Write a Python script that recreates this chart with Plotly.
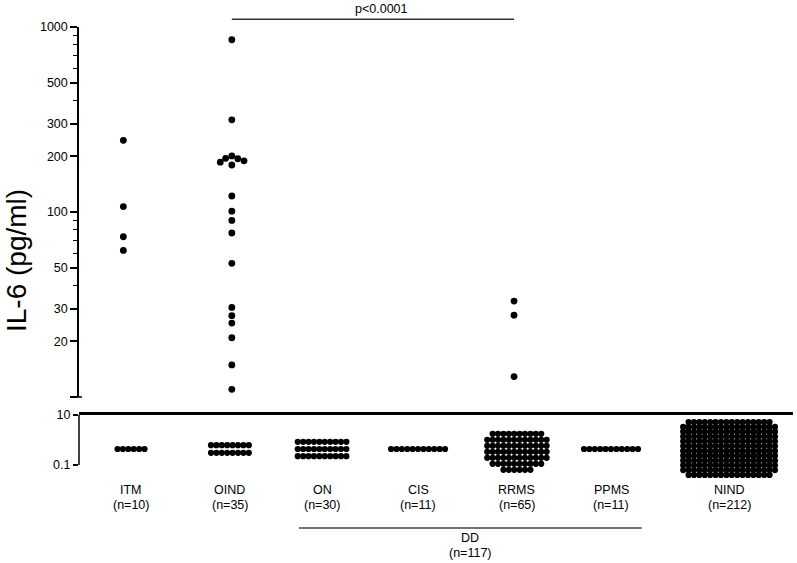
import numpy as np
import plotly.graph_objects as go

# ---------------- data ----------------
groups = ["ITM", "OIND", "ON", "CIS", "RRMS", "PPMS", "NIND"]
group_n = [10, 35, 30, 11, 65, 11, 212]
dd_label = "DD"
dd_n = 117
p_text = "p<0.0001"

# detectable IL-6 (pg/ml) - upper panel
itm_values = [244, 107, 73.5, 62]
oind_values = [853, 315, 201, 195, 194, 189, 186, 179.5, 122, 101, 90, 77,
               52.8, 30.5, 27.5, 25.1, 20.9, 14.9, 11.0]
rrms_values = [33.0, 27.7, 12.9]
upper_values = {"ITM": itm_values, "OIND": oind_values, "RRMS": rrms_values}

# below-detection samples - lower panel: number of dots in each row (top -> bottom)
itm_rows = [6]
oind_rows = [8, 8]
on_rows = [10, 10, 10]
cis_rows = [11]
rrms_rows = [10, 12, 12, 12, 12, 10, 6]
ppms_rows = [11]
nind_rows = [16, 18, 18, 18, 18, 18, 18, 18, 18, 18, 18, 16]
lower_rows = [itm_rows, oind_rows, on_rows, cis_rows, rrms_rows, ppms_rows, nind_rows]
# centre of each below-detection stack (pg/ml)
below_centre = [0.437, 0.437, 0.437, 0.437, 0.337, 0.437, 0.457]

upper_ticks = [10, 20, 30, 50, 100, 200, 300, 500, 1000]
upper_ticktext = ["", "20", "30", "50", "100", "200", "300", "500", "1000"]
upper_minor = [40, 60, 70, 80, 90, 400, 600, 700, 800, 900]
lower_ticks = [0.1, 10]
lower_ticktext = ["0.1", "10"]

# ---------------- layout constants ----------------
W, H = 797, 563
GROUP_X = [0.0, 1.03, 1.99, 2.99, 4.02, 5.0, 6.23]
UPPER_SHIFT = {"ITM": -0.08, "OIND": 0.02, "RRMS": -0.03}
X_RANGE = [-0.542, 6.896]
X_DOMAIN = [79 / W, 793 / W]
PX_PER_X = (793 - 79) / (X_RANGE[1] - X_RANGE[0])
UP_PX_PER_DEC = (397 - 27) / 2.0
LOW_TOP, LOW_AXIS_BOTTOM, LOW_DOMAIN_BOTTOM = 415, 465, 487
LOW_PX_PER_DEC = (LOW_AXIS_BOTTOM - LOW_TOP) / 2.0
LOW_RANGE = [1 - (LOW_DOMAIN_BOTTOM - LOW_TOP) / LOW_PX_PER_DEC, 1]
DOT_DX_PX = 5.4
ROW_DY_PX = [7.0, 7.7, 7.2, 7.0, 6.0, 7.0, 4.8]
FONT = "Liberation Sans, Arial, Helvetica, sans-serif"


def py(px):
    return 1 - px / H


def swarm(values, diameter_px):
    placed, out = [], []
    for v in values:
        y = np.log10(v) * UP_PX_PER_DEC
        intervals = []
        for (pyv, pxv) in placed:
            dy = abs(pyv - y)
            if dy < diameter_px:
                half = np.sqrt(diameter_px ** 2 - dy ** 2)
                intervals.append((pxv - half, pxv + half))
        cands = [0.0] + [a for a, b in intervals] + [b for a, b in intervals]
        cands.sort(key=abs)
        chosen = 0.0
        for c in cands:
            if all(not (a + 1e-9 < c < b - 1e-9) for a, b in intervals):
                chosen = c
                break
        placed.append((y, chosen))
        out.append(chosen)
    return np.array(out) / PX_PER_X


fig = go.Figure()

# upper panel points
ux, uy = [], []
for g, vals in upper_values.items():
    gi = groups.index(g)
    offs = swarm(vals, 6.6)
    ux.extend(GROUP_X[gi] + UPPER_SHIFT.get(g, 0) + offs)
    uy.extend(vals)
fig.add_trace(go.Scatter(x=ux, y=uy, mode="markers", xaxis="x", yaxis="y",
                         marker=dict(color="black", size=6.8, line=dict(width=0)),
                         cliponaxis=False, hoverinfo="y", showlegend=False))

# lower panel points
lx, ly = [], []
for gi, rows in enumerate(lower_rows):
    dy = ROW_DY_PX[gi] / LOW_PX_PER_DEC
    dx = DOT_DX_PX / PX_PER_X
    R = len(rows)
    c = np.log10(below_centre[gi])
    for r, cnt in enumerate(rows):
        yl = c + ((R - 1) / 2 - r) * dy
        for k in range(cnt):
            lx.append(GROUP_X[gi] + (k - (cnt - 1) / 2) * dx)
            ly.append(10 ** yl)
fig.add_trace(go.Scatter(x=lx, y=ly, mode="markers", xaxis="x2", yaxis="y2",
                         marker=dict(color="black", size=6.2, line=dict(width=0)),
                         cliponaxis=False, hoverinfo="skip", showlegend=False))

annotations = []
for gi, g in enumerate(groups):
    annotations.append(dict(x=GROUP_X[gi], y=py(490), xref="x", yref="paper", text=g,
                            showarrow=False, font=dict(size=12.5, color="black", family=FONT),
                            xanchor="center", yanchor="middle"))
    annotations.append(dict(x=GROUP_X[gi], y=py(505), xref="x", yref="paper",
                            text=f"(n={group_n[gi]})", showarrow=False,
                            font=dict(size=12.5, color="black", family=FONT),
                            xanchor="center", yanchor="middle"))

dd_x0 = GROUP_X[2] - 0.24
dd_x1 = GROUP_X[5] + 0.32
dd_mid = (dd_x0 + dd_x1) / 2
annotations.append(dict(x=dd_mid, y=py(538), xref="x", yref="paper", text=dd_label,
                        showarrow=False, font=dict(size=12.5, color="black", family=FONT),
                        xanchor="center", yanchor="middle"))
annotations.append(dict(x=dd_mid, y=py(553), xref="x", yref="paper", text=f"(n={dd_n})",
                        showarrow=False, font=dict(size=12.5, color="black", family=FONT),
                        xanchor="center", yanchor="middle"))

p_x0 = GROUP_X[1] + UPPER_SHIFT["OIND"]
p_x1 = GROUP_X[4] + UPPER_SHIFT["RRMS"]
annotations.append(dict(x=(p_x0 + p_x1) / 2 + 0.09, y=py(9), xref="x", yref="paper", text=p_text,
                        showarrow=False, font=dict(size=12.5, color="black", family=FONT),
                        xanchor="center", yanchor="middle"))

annotations.append(dict(x=16 / W, y=py(261), xref="paper", yref="paper", text="IL-6 (pg/ml)",
                        textangle=-90, showarrow=False,
                        font=dict(size=28, color="black", family=FONT),
                        xanchor="center", yanchor="middle"))

shapes = [
    dict(type="line", xref="x", yref="paper", x0=p_x0, x1=p_x1, y0=py(19.3), y1=py(19.3),
         line=dict(color="#333333", width=1.5)),
    dict(type="line", xref="x", yref="paper", x0=dd_x0, x1=dd_x1, y0=py(528), y1=py(528),
         line=dict(color="#444444", width=1.5)),
    # left axis line of the lower panel (only between 10 and 0.1)
    dict(type="line", xref="paper", yref="paper", x0=X_DOMAIN[0], x1=X_DOMAIN[0],
         y0=py(LOW_TOP), y1=py(LOW_AXIS_BOTTOM), line=dict(color="black", width=1.5)),
    # small cross tick at the foot of the upper axis
    dict(type="line", xref="paper", yref="paper", x0=(X_DOMAIN[0] * W - 6) / W,
         x1=(X_DOMAIN[0] * W + 3) / W, y0=py(397), y1=py(397),
         line=dict(color="black", width=1.5)),
]

axis_common = dict(showgrid=False, zeroline=False, color="black", automargin=False)

fig.update_layout(
    template="none",
    width=W, height=H, autosize=False,
    margin=dict(l=0, r=0, t=0, b=0, pad=0),
    paper_bgcolor="white", plot_bgcolor="white",
    font=dict(family=FONT, color="black"),
    xaxis=dict(domain=X_DOMAIN, range=X_RANGE, anchor="y", visible=False, **axis_common),
    xaxis2=dict(domain=X_DOMAIN, range=X_RANGE, matches="x", anchor="y2", side="top",
                showline=True, linewidth=2.5, linecolor="black", ticks="",
                showticklabels=False, **axis_common),
    yaxis=dict(domain=[py(397), py(27)], type="log", range=[1, 3], anchor="x",
               showline=True, linewidth=1.5, linecolor="black",
               tickmode="array", tickvals=upper_ticks, ticktext=upper_ticktext,
               ticks="outside", ticklen=7, tickwidth=1.5, tickcolor="black",
               tickfont=dict(size=12.5, family=FONT, color="black"),
               minor=dict(tickmode="array", tickvals=upper_minor, ticks="outside",
                          ticklen=4, tickwidth=1.2, tickcolor="black", showgrid=False),
               **axis_common),
    yaxis2=dict(domain=[py(LOW_DOMAIN_BOTTOM), py(LOW_TOP)], type="log", range=LOW_RANGE,
                anchor="x2", showline=False,
                tickmode="array", tickvals=lower_ticks, ticktext=lower_ticktext,
                ticks="outside", ticklen=5, tickwidth=1.5, tickcolor="black",
                tickfont=dict(size=12.5, family=FONT, color="black"),
                **axis_common),
    annotations=annotations,
    shapes=shapes,
)

fig.write_html("out.html", config={"displayModeBar": False},
               post_script="document.body.style.margin='0';document.body.style.overflow='hidden';")
